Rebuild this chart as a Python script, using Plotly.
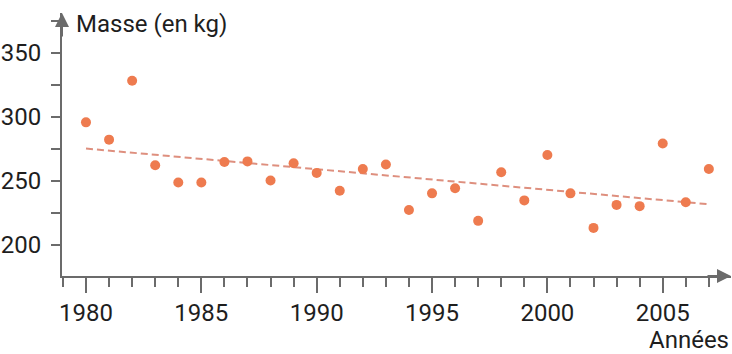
import plotly.graph_objects as go

years = list(range(1980, 2008))
masses = [295.5, 282, 328, 262, 248.5, 248.5, 264.5, 265, 250, 263.5,
          256, 242, 259, 262.5, 227, 240, 244, 218.5, 256.5, 234.5,
          270, 240, 213, 231, 230, 279, 233, 259]
trend_years = [1980, 2007]
trend_values = [275, 231.5]
y_ticks = [200, 250, 300, 350]
x_ticks = [1980, 1985, 1990, 1995, 2000, 2005]

FONT = "Roboto, sans-serif"
AXIS = "#6b6b6b"
ORANGE = "#EE7B4F"

fig = go.Figure()
fig.add_trace(go.Scatter(x=trend_years, y=trend_values, mode="lines",
                         line=dict(color="#DE8F7E", width=2, dash="7px,4px"),
                         hoverinfo="skip"))
fig.add_trace(go.Scatter(x=years, y=masses, mode="markers",
                         marker=dict(color=ORANGE, size=10, line=dict(width=0))))

xr = [1978.96, 2007.96]
yr = [175.4, 381]

fig.update_layout(
    template="none",
    width=732, height=354,
    margin=dict(l=62, r=1, t=13, b=77.5, pad=0),
    paper_bgcolor="white", plot_bgcolor="white",
    showlegend=False,
    font=dict(family=FONT, size=24, color="#1e1e1e"),
    xaxis=dict(range=xr, showgrid=False, zeroline=False, automargin=False,
               showline=True, linecolor=AXIS, linewidth=2,
               tickmode="array", tickvals=x_ticks, ticktext=[str(v) for v in x_ticks],
               ticks="outside", ticklen=15, tickwidth=1.5, tickcolor=AXIS,
               ticklabelstandoff=-1,
               minor=dict(dtick=1, tick0=1980, ticks="outside", ticklen=9,
                          tickwidth=1.5, tickcolor=AXIS, showgrid=False)),
    yaxis=dict(range=yr, showgrid=False, zeroline=False, automargin=False,
               showline=True, linecolor=AXIS, linewidth=2,
               tickmode="array", tickvals=y_ticks, ticktext=[str(v) for v in y_ticks],
               ticks="outside", ticklen=9, tickwidth=1.5, tickcolor=AXIS,
               ticklabelstandoff=5,
               minor=dict(dtick=25, tick0=200, ticks="outside", ticklen=9,
                          tickwidth=1.5, tickcolor=AXIS, showgrid=False)),
)

# axis arrows
fig.add_annotation(x=xr[1], y=yr[0], xref="x", yref="y", ax=-25, ay=0,
                   showarrow=True, arrowhead=2, arrowsize=1.4, arrowwidth=2,
                   arrowcolor=AXIS, text="")
fig.add_annotation(x=xr[0], y=yr[1], xref="x", yref="y", ax=0, ay=25,
                   showarrow=True, arrowhead=2, arrowsize=1.4, arrowwidth=2,
                   arrowcolor=AXIS, text="")

fig.add_annotation(text="Masse (en kg)", xref="paper", yref="paper",
                   x=0.018, y=0.958, xanchor="left", yanchor="middle",
                   showarrow=False, font=dict(family=FONT, size=24, color="#1e1e1e"))
fig.add_annotation(text="Années", xref="paper", yref="paper",
                   x=1.0, y=-0.245, xanchor="right", yanchor="middle",
                   showarrow=False, font=dict(family=FONT, size=24, color="#1e1e1e"))

fig.write_html("out.html", config={"displayModeBar": False},
               post_script="document.body.style.margin='0';")
